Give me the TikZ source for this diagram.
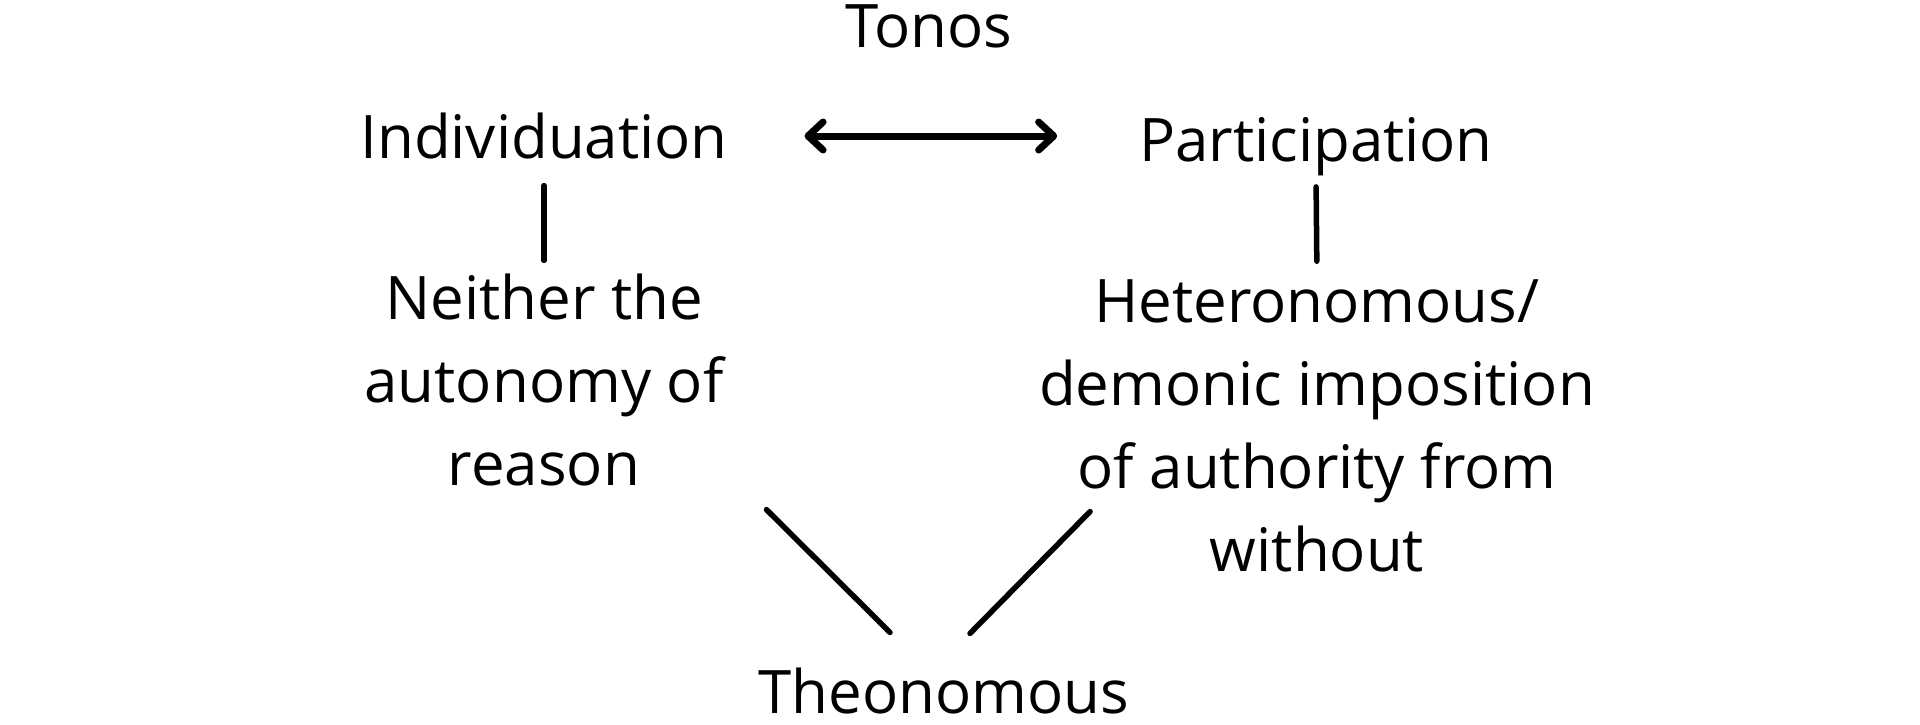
\documentclass[tikz,border=0pt]{standalone}
\usepackage{fontspec}
\setmainfont{Open Sans}
\usetikzlibrary{arrows.meta,calc}
\begin{document}
\begin{tikzpicture}[x=1pt,y=-1pt,
  lbl/.style={inner sep=0pt,outer sep=0pt,align=center,font=\fontsize{60pt}{83pt}\selectfont},
  link/.style={line width=5.5pt,line cap=round,black},
  dblarrow/.style={line width=7pt,line cap=round,black,
    {Straight Barb[round,length=15pt,width=28pt,line width=7pt]}-{Straight Barb[round,length=15pt,width=28pt,line width=7pt]}}]
\useasboundingbox[fill=white] (0,0) rectangle (1920,724);
\node[lbl,anchor=base] (tonos) at (929,47) {Tonos};
\node[lbl,anchor=base] (ind) at (544,158) {Individuation};
\node[lbl,anchor=base] (par) at (1316,161) {Participation};
\node[lbl,anchor=base] (nei) at (544,485) {Neither the\\autonomy of\\reason};
\node[lbl,anchor=base] (het) at (1317,571) {Heteronomous/\\demonic imposition\\of authority from\\without};
\node[lbl,anchor=base] (theo) at (944,713) {Theonomous};
\draw[dblarrow] ([shift={(77,-22)}]ind.base east) -- ([shift={(-82,-25)}]par.base west);
\draw[link,shorten <=27pt,shorten >=13pt] (ind.south) -- (nei.north);
\draw[link,shorten <=11.5pt,shorten >=18pt] (par.south) -- (het.north);
\draw[link] ($(nei.south east)+(43,24)$) -- ($(theo.north)+(-54,-35)$);
\draw[link] ($(het.south west)+(51,-60)$) -- ($(theo.north)+(26,-34)$);
\end{tikzpicture}
\end{document}
